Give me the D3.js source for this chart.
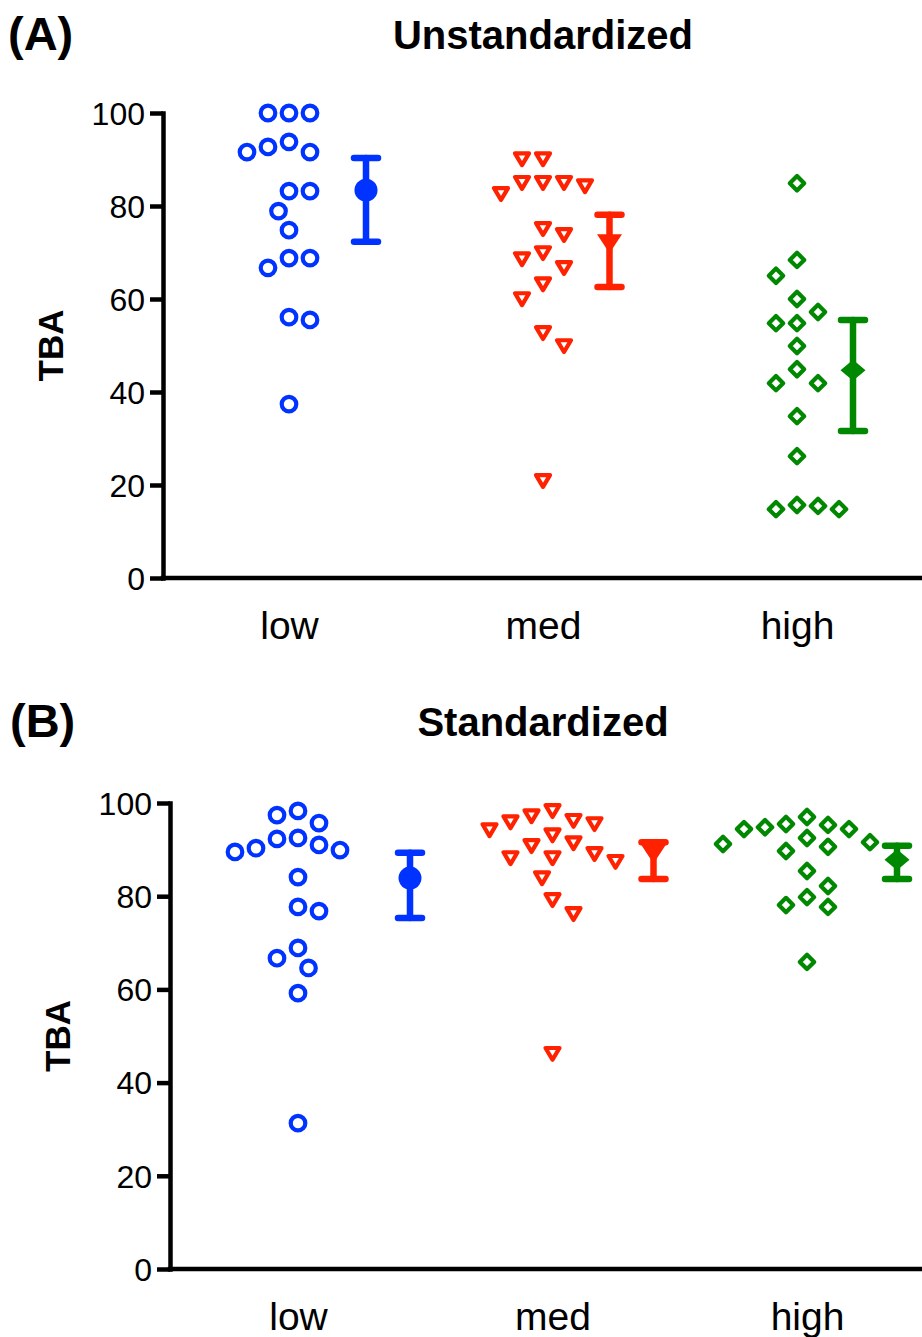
<!DOCTYPE html>
<head>
  <script src="https://d3js.org/d3.v7.min.js"></script>
  <meta charset='utf-8'>
  <style>
    body { margin: 0; background: white; }
    svg text { font-family: "Liberation Sans", Arial, Helvetica, sans-serif; fill: black; }
  </style>
</head>
<body>
<div id="chart"></div>
<script>

// ---- data ----
const categories = ["low", "med", "high"];
const yTicks = [0, 20, 40, 60, 80, 100];

// (A) unstandardized TBA, one array per group
const unstdLow  = [100, 100, 100, 93.8, 91.6, 91.6, 92.7, 83.2, 83.2, 78.9, 74.8, 68.8, 66.7, 68.8, 56.1, 55.5, 37.4];
const unstdMed  = [90.3, 90.3, 85.2, 84.5, 82.8, 85.2, 85.2, 74.0, 75.3, 70.1, 68.8, 66.9, 63.4, 60.2, 52.9, 50.1, 21.1];
const unstdHigh = [84.9, 68.4, 65.0, 60.0, 57.2, 54.8, 54.8, 49.9, 44.9, 41.9, 41.9, 34.8, 26.2, 15.5, 14.8, 14.8, 15.7];
const unstdMean    = [83.4, 72.3, 44.7];
const unstdErrLow  = [72.3, 62.6, 31.6];
const unstdErrHigh = [90.3, 78.1, 55.5];

// (B) standardized TBA
const stdLow  = [98.3, 95.7, 97.4, 92.5, 91.0, 89.9, 89.5, 90.3, 92.3, 84.1, 77.7, 76.8, 68.9, 64.6, 66.7, 59.2, 31.3];
const stdMed  = [97.4, 96.1, 93.3, 94.4, 91.0, 88.4, 95.7, 96.4, 98.5, 91.6, 89.3, 88.4, 87.6, 84.1, 79.4, 76.4, 46.4];
const stdHigh = [95.5, 94.8, 94.4, 94.4, 95.3, 97.0, 91.6, 90.6, 89.7, 91.2, 92.5, 85.4, 82.2, 78.1, 77.7, 79.8, 65.9];
const stdMean    = [83.9, 89.5, 87.8];
const stdErrLow  = [75.3, 83.7, 83.7];
const stdErrHigh = [89.3, 91.6, 90.8];

// ---- styling ----
const colors = ["#0033ff", "#ff2200", "#008800"];
const W = 922, H = 1337;

const svg = d3.select("#chart").append("svg")
    .attr("width", W)
    .attr("height", H);

svg.append("rect").attr("width", W).attr("height", H).attr("fill", "white");

// hollow point shapes and filled mean shapes
const hollow = [
  null, // circle drawn as <circle>
  "M-7,-4.8L7,-4.8L0,7Z",
  "M0,-7.2L7.2,0L0,7.2L-7.2,0Z"
];
const solid = [
  null,
  "M-12.5,-7.5L12.5,-7.5L0,11.5Z",
  "M0,-10.5L12.5,0L0,10.5L-12.5,0Z"
];

// place points like a column scatter: nearest free slot to the centre line
function swarm(vals, y, minDist, step) {
  const pts = vals.map(v => ({v: v, py: y(v)})).sort((a, b) => a.py - b.py);
  const placed = [];
  pts.forEach(p => {
    for (let k = 0; k < 40; k++) {
      let cands;
      if (k === 0) cands = [0];
      else {
        const left = placed.filter(q => q.dx < 0).length,
              right = placed.filter(q => q.dx > 0).length;
        cands = left > right ? [k * step, -k * step] : [-k * step, k * step];
      }
      const ok = cands.find(dx => placed.every(q => Math.hypot(q.dx - dx, q.py - p.py) >= minDist));
      if (ok !== undefined) { p.dx = ok; break; }
    }
    placed.push(p);
  });
  return placed;
}

function panel(opt) {
  const g = svg.append("g");

  const y = d3.scaleLinear()
      .domain([0, 100])
      .range([opt.bottom, opt.top]);

  const x = d3.scalePoint()
      .domain(categories)
      .range(opt.catRange);

  const xErr = d3.scalePoint()
      .domain(categories)
      .range(opt.errRange);

  // panel letter and title
  g.append("text")
      .attr("x", opt.letterX)
      .attr("y", opt.titleY)
      .attr("font-size", 47)
      .attr("font-weight", "bold")
      .text(opt.letter);

  g.append("text")
      .attr("x", 543)
      .attr("y", opt.titleY - 1)
      .attr("text-anchor", "middle")
      .attr("font-size", 40)
      .attr("font-weight", "bold")
      .text(opt.title);

  // y axis
  const yAxis = g.append("g")
      .attr("transform", `translate(${opt.x0},0)`)
      .call(d3.axisLeft(y).tickValues(yTicks).tickSize(13).tickSizeOuter(0).tickPadding(5));
  yAxis.select(".domain").attr("stroke-width", 4.5).attr("stroke-linecap", "square");
  yAxis.selectAll(".tick line").attr("stroke-width", 4.5);
  yAxis.selectAll(".tick text")
      .attr("font-size", 32)
      .attr("font-family", "Liberation Sans, Arial, sans-serif")
      .attr("dy", "0.35em");

  // x axis line
  g.append("line")
      .attr("x1", opt.x0).attr("x2", W)
      .attr("y1", y(0)).attr("y2", y(0))
      .attr("stroke", "black")
      .attr("stroke-width", 4.5)
      .attr("stroke-linecap", "square");

  // category labels
  const xAxis = g.append("g")
      .attr("transform", `translate(0,${y(0)})`)
      .call(d3.axisBottom(x).tickSize(0).tickPadding(33));
  xAxis.select(".domain").remove();
  xAxis.selectAll(".tick text")
      .attr("font-size", 39)
      .attr("font-family", "Liberation Sans, Arial, sans-serif");

  // y title
  g.append("text")
      .attr("transform", `translate(${opt.x0 - 100},${(opt.top + opt.bottom) / 2}) rotate(-90)`)
      .attr("text-anchor", "middle")
      .attr("font-size", 35)
      .attr("font-weight", "bold")
      .text("TBA");

  // points
  opt.groups.forEach((vals, i) => {
    const c = colors[i];
    const pts = swarm(vals, y, 20.5, 10.5);
    const cx = x(categories[i]);
    const sel = g.append("g").selectAll(null).data(pts);
    if (i === 0) {
      sel.join("circle")
          .attr("cx", d => cx + d.dx)
          .attr("cy", d => d.py)
          .attr("r", 7.3)
          .attr("fill", "none")
          .attr("stroke", c)
          .attr("stroke-width", 4.2);
    } else {
      sel.join("path")
          .attr("transform", d => `translate(${cx + d.dx},${d.py})`)
          .attr("d", hollow[i])
          .attr("fill", "none")
          .attr("stroke", c)
          .attr("stroke-width", 4.2)
          .attr("stroke-linejoin", "round");
    }

    // mean with error bar
    const ex = xErr(categories[i]);
    const eg = g.append("g").attr("stroke", c).attr("stroke-width", 6.5).attr("stroke-linecap", "round");
    eg.append("line").attr("x1", ex).attr("x2", ex)
        .attr("y1", y(opt.errLow[i])).attr("y2", y(opt.errHigh[i]));
    [opt.errLow[i], opt.errHigh[i]].forEach(v => {
      eg.append("line").attr("x1", ex - 12).attr("x2", ex + 12)
          .attr("y1", y(v)).attr("y2", y(v));
    });
    if (i === 0) {
      g.append("circle").attr("cx", ex).attr("cy", y(opt.mean[i])).attr("r", 11.5).attr("fill", c);
    } else {
      g.append("path")
          .attr("transform", `translate(${ex},${y(opt.mean[i])})`)
          .attr("d", solid[i])
          .attr("fill", c);
    }
  });
}

panel({
  letter: "(A)", title: "Unstandardized", letterX: 8, titleY: 50,
  x0: 163, top: 113, bottom: 578,
  catRange: [289, 797], errRange: [366, 853],
  groups: [unstdLow, unstdMed, unstdHigh],
  mean: unstdMean, errLow: unstdErrLow, errHigh: unstdErrHigh
});

panel({
  letter: "(B)", title: "Standardized", letterX: 10, titleY: 737,
  x0: 170, top: 803, bottom: 1269,
  catRange: [298, 807], errRange: [410, 897],
  groups: [stdLow, stdMed, stdHigh],
  mean: stdMean, errLow: stdErrLow, errHigh: stdErrHigh
});

</script>
</body>
